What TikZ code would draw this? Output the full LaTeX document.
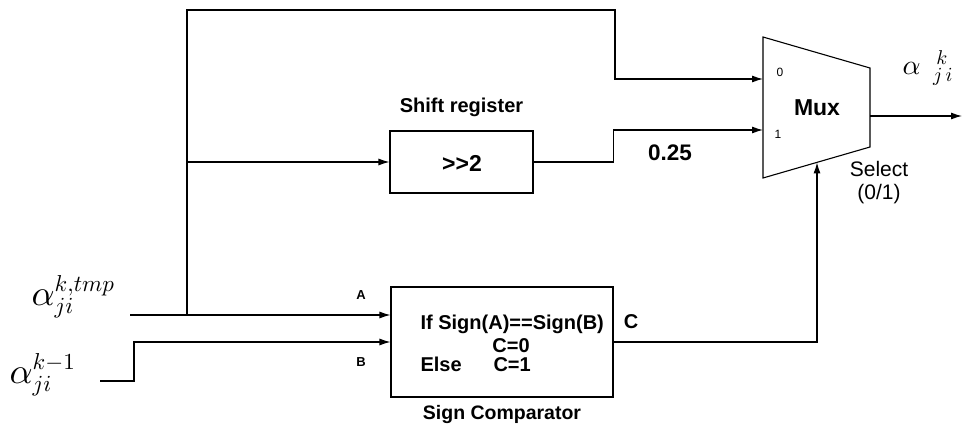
\documentclass[tikz,border=0pt]{standalone}
\usepackage{fontspec}
\setmainfont{Liberation Sans}
\newfontfamily\rawsans{Liberation Sans}[Ligatures=TeXOff]
% scalable math fonts at any size
\DeclareFontShape{OML}{cmm}{m}{it}{<->cmmi10}{}
\DeclareFontShape{OMS}{cmsy}{m}{n}{<->cmsy10}{}
\DeclareFontShape{OT1}{cmr}{m}{n}{<->cmr10}{}
\DeclareMathSizes{36}{36}{23}{16}
\DeclareMathSizes{28}{28}{20}{14}
\usetikzlibrary{arrows.meta}
\tikzset{
  blk/.style={draw, line width=1.1pt, rectangle, inner sep=0pt},
  tag/.style={font=\bfseries\fontsize{#1}{#1}\selectfont, inner sep=0pt},
  plain/.style={font=\fontsize{#1}{#1}\selectfont, inner sep=0pt},
  mathlbl/.style={font=\fontsize{#1}{#1}\selectfont, inner sep=0pt}
}
\begin{document}
\begin{tikzpicture}[x=1pt, y=-1pt, line width=1.1pt,
  >={Latex[length=11pt,width=7pt]}]
\useasboundingbox (0,0) rectangle (967,425);

% shift register block
\node[blk, minimum width=143pt, minimum height=62pt] (shift) at (461.5,162) {};
\node[inner sep=0pt, font=\rawsans\bfseries\fontsize{23}{23}\selectfont] (shifttxt) at (462,163) {>>2};
\node[tag=20] (shiftcap) at (461.5,107) {Shift register};

% sign comparator block
\node[blk, minimum width=222pt, minimum height=110pt] (cmp) at (502,342) {};
\node[tag=20, anchor=base west] (cif) at (420,329) {If Sign(A)==Sign(B)};
\node[tag=20, anchor=base] (c0) at (511,352) {C=0};
\node[tag=20, anchor=base west] (celse) at (420,371) {Else};
\node[tag=20, anchor=base west] (c1) at (493,371) {C=1};
\node[tag=19.5] (cmpcap) at (502,414) {Sign Comparator};

% multiplexer
\coordinate (mtl) at (763,37);
\coordinate (mtr) at (870,68);
\coordinate (mbr) at (870,147);
\coordinate (mbl) at (763,178);
\draw[line width=1.1pt] (mtl) -- (mtr) -- (mbr) -- (mbl) -- cycle;
\node[tag=23] (mux) at (817,108) {Mux};
\node[plain=12] (in0) at (780,72) {0};
\node[plain=12] (in1) at (778,134) {1};
\coordinate (m0) at (763,79);
\coordinate (m1) at (763,130);
\coordinate (msel) at (817,162.4);
\coordinate (mout) at (870,116);
\coordinate (outend) at (962,116);

% inputs
\coordinate (j) at (187,315);
\coordinate (jb) at (187,162);
\coordinate (ain) at (130,315);
\coordinate (bin) at (100,381);
\coordinate (bbend) at (134,381);

\node[mathlbl=36, anchor=base west] (atmp) at (31,305) {$\alpha_{ji}^{k,tmp}$};
\node[mathlbl=36, anchor=base west] (aprev) at (9,383) {$\alpha_{ji}^{k-1}$};
\node[tag=13] (la) at (361,295) {A};
\node[tag=13] (lb) at (361,362) {B};

% connectors
\draw[->] (j) |- (615,10) |- (m0);
\draw[->] (jb) -- (shift.west);
\draw[->] (shift.east) -- ++(80,0) |- (m1);
\draw[->] (ain) -- (cmp.west |- ain);
\draw[->] (bin) -- (bbend) |- (cmp.west);
\draw[->] (cmp.east) -| (msel);
\draw[->] (mout) -- (outend);

% signal labels
\node[tag=22.5] (q) at (670,153) {0.25};
\node[tag=20] (lc) at (631,322) {C};
\node[plain=21, anchor=base] (sel) at (879,177) {Select};
\node[plain=21, anchor=base] (sel01) at (879,200) {(0/1)};
\node[mathlbl=28, anchor=base west] (aout) at (902,75) {$\alpha\;\,{}^{\,k}_{j\,i}$};
\end{tikzpicture}
\end{document}
